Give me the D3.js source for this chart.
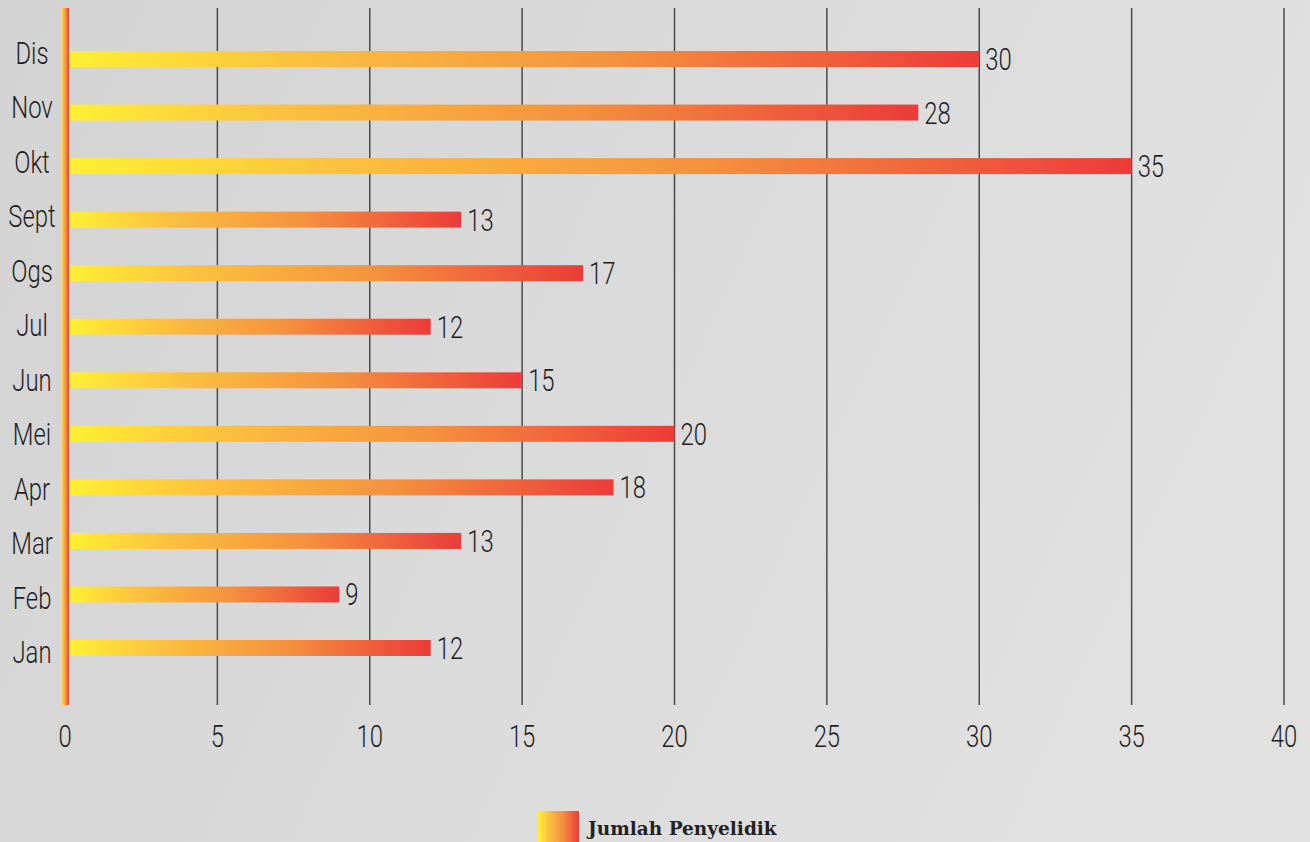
<!DOCTYPE html>
<html>
<head>
<meta charset="utf-8">
<script src="https://cdn.jsdelivr.net/npm/d3@7"></script>
<style>
  body { margin: 0; background: #d8d8d8; }
  .lbl { font-family: Roboto, "Liberation Sans", sans-serif; font-weight: 300; font-size: 31px; fill: #1e1e1e; }
  .legend { font-family: "DejaVu Serif", "Liberation Serif", serif; font-weight: bold; font-size: 18.5px; fill: #222; }
</style>
</head>
<body>
<div id="chart"></div>
<script>
// months from top to bottom
var months = ["Dis", "Nov", "Okt", "Sept", "Ogs", "Jul", "Jun", "Mei", "Apr", "Mar", "Feb", "Jan"];
var values = [30, 28, 35, 13, 17, 12, 15, 20, 18, 13, 9, 12];
var ticks = [0, 5, 10, 15, 20, 25, 30, 35, 40];
var seriesName = "Jumlah Penyelidik";

var W = 1310, H = 842;
var narrow = 0.77; // squeeze text to look like a condensed face

var svg = d3.select("#chart").append("svg")
  .attr("width", W)
  .attr("height", H);

var defs = svg.append("defs");

// background: flat gray with soft light from the right
var bg = defs.append("linearGradient").attr("id", "bg").attr("x1", 0).attr("x2", 1).attr("y1", 0).attr("y2", 0.3);
bg.append("stop").attr("offset", "0%").attr("stop-color", "#d3d3d3");
bg.append("stop").attr("offset", "100%").attr("stop-color", "#e1e1e1");
svg.append("rect").attr("width", W).attr("height", H).attr("fill", "url(#bg)");

// bar gradient, yellow -> orange -> red per bar
var grad = defs.append("linearGradient").attr("id", "barGrad").attr("x1", 0).attr("x2", 1).attr("y1", 0).attr("y2", 0);
grad.append("stop").attr("offset", "0%").attr("stop-color", "#fff033");
grad.append("stop").attr("offset", "25%").attr("stop-color", "#fcc13f");
grad.append("stop").attr("offset", "60%").attr("stop-color", "#f4913e");
grad.append("stop").attr("offset", "100%").attr("stop-color", "#ec3b39");

var x = d3.scaleLinear().domain([0, 40]).range([65, 1284]);
var y = d3.scalePoint().domain(months).range([59, 648]);
// month labels sit on a slightly wider spacing than the bars
var yLab = d3.scalePoint().domain(months).range([64, 663]);

var plotTop = 8, plotBottom = 705;

function place(px, py) {
  return "translate(" + px + "," + py + ") scale(" + narrow + ",1)";
}

// gridlines
svg.append("g").selectAll("line").data(ticks.filter(function(t){ return t > 0; }))
  .enter().append("line")
  .attr("x1", function(d){ return x(d); })
  .attr("x2", function(d){ return x(d); })
  .attr("y1", plotTop)
  .attr("y2", plotBottom)
  .attr("stroke", "#4a4a4a")
  .attr("stroke-width", 1.5);

// x tick labels
svg.append("g").selectAll("text").data(ticks)
  .enter().append("text")
  .attr("class", "lbl")
  .attr("transform", function(d){ return place(x(d), 747); })
  .attr("text-anchor", "middle")
  .text(function(d){ return d; });

// bars
var barH = 16;
svg.append("g").selectAll("rect").data(values)
  .enter().append("rect")
  .attr("x", x(0) + 4)
  .attr("y", function(d, i){ return y(months[i]) - barH / 2; })
  .attr("width", function(d){ return x(d) - x(0) - 4; })
  .attr("height", barH)
  .attr("fill", "url(#barGrad)");

// value labels
svg.append("g").selectAll("text").data(values)
  .enter().append("text")
  .attr("class", "lbl")
  .attr("transform", function(d, i){ return place(x(d) + 6, y(months[i]) + 11); })
  .text(function(d){ return d; });

// month labels
svg.append("g").selectAll("text").data(months)
  .enter().append("text")
  .attr("class", "lbl")
  .attr("transform", function(d){ return place(32, yLab(d)); })
  .attr("text-anchor", "middle")
  .text(function(d){ return d; });

// the colored axis bar at zero
svg.append("rect")
  .attr("x", x(0) - 4)
  .attr("y", plotTop)
  .attr("width", 8)
  .attr("height", plotBottom - plotTop)
  .attr("fill", "url(#barGrad)");

// legend
var lg = svg.append("g");
lg.append("rect")
  .attr("x", 538).attr("y", 811)
  .attr("width", 41).attr("height", 40)
  .attr("fill", "url(#barGrad)");
lg.append("text")
  .attr("class", "legend")
  .attr("x", 588).attr("y", 835)
  .text(seriesName);
</script>
</body>
</html>
